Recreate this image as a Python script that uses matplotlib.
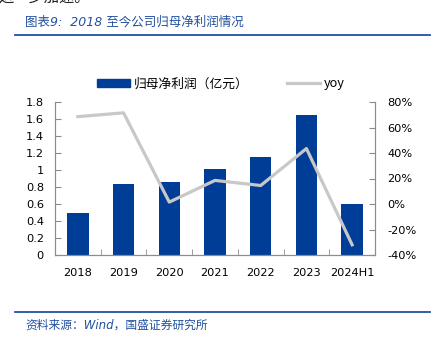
import matplotlib.pyplot as plt
from matplotlib.lines import Line2D
from matplotlib.patches import Patch
import numpy as np

plt.rcParams['font.family'] = ['DejaVu Sans', 'Noto Sans CJK SC']

years = ["2018", "2019", "2020", "2021", "2022", "2023", "2024H1"]
profit = [0.50, 0.84, 0.855, 1.01, 1.155, 1.645, 0.60]   # 归母净利润（亿元）
yoy = [68.5, 71.5, 1.5, 18.5, 14.5, 43.5, -32.0]          # %

BLUE = "#003d96"
GREY_LINE = "#c8c8c8"
TEXT_BLUE = "#22509f"
AXIS_GREY = "#8c8c8c"

W, H = 442, 337
fig = plt.figure(figsize=(W / 100, H / 100), dpi=100)

ax = fig.add_axes([55 / W, 1 - 255 / H, 320 / W, 153 / H])
ax2 = ax.twinx()

x = np.arange(len(years))
ax.bar(x, profit, width=0.47, color=BLUE, zorder=2)
ax2.plot(x, yoy, color=GREY_LINE, lw=2.3, zorder=3)

ax.set_xlim(-0.5, len(years) - 0.5)
ax.set_ylim(0, 1.8)
ax.set_yticks(np.arange(0, 1.81, 0.2))
ax.set_yticklabels(["0", "0.2", "0.4", "0.6", "0.8", "1", "1.2", "1.4", "1.6", "1.8"])
ax2.set_ylim(-40, 80)
ax2.set_yticks(np.arange(-40, 81, 20))
ax2.set_yticklabels([f"{v}%" for v in range(-40, 81, 20)])

ax.set_xticks(x)
ax.set_xticklabels(years)
ax.set_xticks(np.arange(-0.5, len(years), 1), minor=True)
ax.tick_params(axis='x', which='major', length=0, pad=9, labelsize=8.2)
ax.tick_params(axis='x', which='minor', direction='in', length=4, color=AXIS_GREY)
ax.tick_params(axis='y', direction='in', length=4, color=AXIS_GREY, pad=8, labelsize=8.2)
ax2.tick_params(axis='y', direction='in', length=4, color=AXIS_GREY, pad=9, labelsize=8.2)

for a in (ax, ax2):
    a.spines['top'].set_visible(False)
    for s in ('left', 'right', 'bottom'):
        a.spines[s].set_color(AXIS_GREY)
        a.spines[s].set_linewidth(0.8)

handles = [Patch(color=BLUE), Line2D([0], [0], color=GREY_LINE, lw=2.3)]
fig.legend(handles, ["归母净利润（亿元）", "yoy"], loc='center',
           bbox_to_anchor=(0.5, 1 - 84 / H), ncol=2, frameon=False,
           prop={'family': ['Noto Sans CJK SC', 'DejaVu Sans'], 'size': 9.2},
           handlelength=2.6, handletextpad=0.3, columnspacing=3.0)

# header and footer
fig.text(-2 / W, 1 - 6 / H, "进一步加速。", fontsize=11, va='bottom', ha='left',
         family=['Noto Sans CJK SC', 'DejaVu Sans'], color="#222222")
fig.text(25 / W, 1 - 22 / H, "图表9:  2018 至今公司归母净利润情况", fontsize=9,
         style='italic', color=TEXT_BLUE, va='center', ha='left')
fig.add_artist(Line2D([15 / W, 430 / W], [1 - 34.5 / H] * 2, color=TEXT_BLUE, lw=1.3))
fig.add_artist(Line2D([15 / W, 430 / W], [1 - 311.5 / H] * 2, color=TEXT_BLUE, lw=1.3))
fig.text(25 / W, 1 - 325 / H, "资料来源：Wind，国盛证券研究所", fontsize=8.5,
         style='italic', color=TEXT_BLUE, va='center', ha='left')

fig.savefig("out.png", dpi=100)
